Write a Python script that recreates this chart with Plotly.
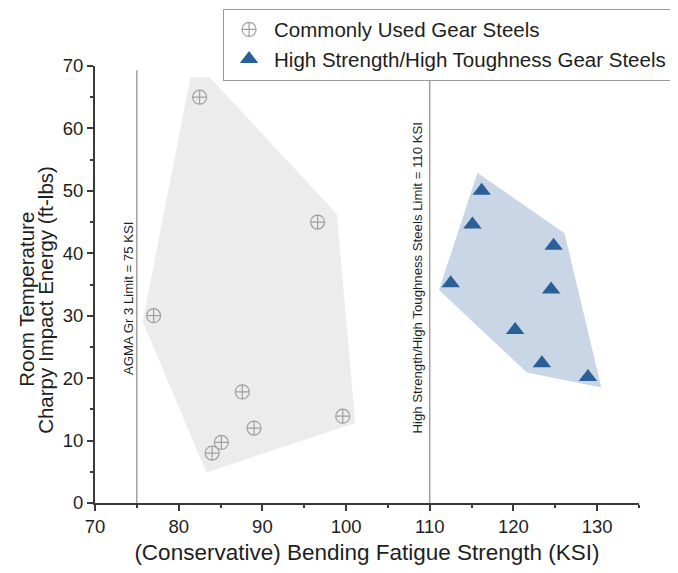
import plotly.graph_objects as go

# Data
common_x = [82.5, 96.6, 77.0, 87.6, 99.6, 89.0, 85.1, 84.0]
common_y = [65.0, 45.0, 30.0, 17.8, 13.9, 12.0, 9.7, 8.0]

high_x = [116.2, 115.1, 124.8, 112.5, 124.5, 120.2, 123.4, 128.9]
high_y = [50.0, 44.6, 41.2, 35.2, 34.2, 27.7, 22.4, 20.2]

common_hull_x = [81.4, 83.7, 98.9, 101.1, 83.3, 75.7]
common_hull_y = [68.2, 68.2, 46.3, 12.8, 4.9, 29.1]

high_hull_x = [115.7, 126.1, 130.5, 121.6, 111.1]
high_hull_y = [52.9, 43.2, 18.5, 20.9, 34.1]

limit_x = [75, 110]
limit_top = 69.3
limit_labels = ["AGMA Gr 3 Limit = 75 KSI",
                "High Strength/High Toughness Steels Limit = 110 KSI"]
limit_label_x = [74.0, 108.5]
limit_label_y = [32.9, 36.0]

x_ticks = [70, 80, 90, 100, 110, 120, 130]
y_ticks = [0, 10, 20, 30, 40, 50, 60, 70]
y_title_lines = ["Room Temperature", "Charpy Impact Energy (ft-lbs)"]

FONT = "Arial, Liberation Sans, sans-serif"
AX = "#3a3a3a"
TXT = "#1e1e1e"

fig = go.Figure()

fig.add_trace(go.Scatter(x=common_hull_x, y=common_hull_y, fill="toself",
                         fillcolor="#ececec", mode="none", showlegend=False,
                         hoverinfo="skip"))
fig.add_trace(go.Scatter(x=high_hull_x, y=high_hull_y, fill="toself",
                         fillcolor="#c9d6e6", mode="none", showlegend=False,
                         hoverinfo="skip"))

for lx in limit_x:
    fig.add_trace(go.Scatter(x=[lx, lx], y=[0, limit_top], mode="lines",
                             line=dict(color="#8a8a8a", width=1.2),
                             showlegend=False, hoverinfo="skip"))

fig.add_trace(go.Scatter(x=common_x, y=common_y, mode="markers",
                         name="Commonly Used Gear Steels",
                         marker=dict(symbol="circle-cross-open", size=14,
                                     color="#a0a0a0", line=dict(width=1.2))))
fig.add_trace(go.Scatter(x=high_x, y=high_y, mode="markers",
                         name="High Strength/High Toughness Gear Steels",
                         marker=dict(symbol="triangle-up", size=16,
                                     color="#2b5f98")))

for txt, tx, ty in zip(limit_labels, limit_label_x, limit_label_y):
    fig.add_annotation(x=tx, y=ty, text=txt, textangle=-90, showarrow=False,
                       font=dict(size=13.2, color=TXT, family=FONT))

for txt, px in zip(y_title_lines, [-0.125, -0.09]):
    fig.add_annotation(xref="paper", yref="paper", x=px, y=0.465, text=txt,
                       textangle=-90, showarrow=False, xanchor="center",
                       yanchor="middle",
                       font=dict(size=20.5, color=TXT, family=FONT))

fig.update_layout(
    width=670, height=565,
    margin=dict(l=87, r=39, t=58, b=70, autoexpand=False),
    paper_bgcolor="white", plot_bgcolor="white",
    font=dict(family=FONT, color=TXT),
    showlegend=True,
    legend=dict(xref="container", yref="container", x=0.321, y=0.999,
                xanchor="left", yanchor="top",
                bordercolor="#9a9a9a", borderwidth=1, bgcolor="white",
                font=dict(size=20.5, color=TXT, family=FONT),
                tracegroupgap=0, itemwidth=40),
)
fig.update_xaxes(range=[70, 135], tickvals=x_ticks, automargin=False,
                 showgrid=False, zeroline=False, showline=True,
                 linecolor=AX, linewidth=1.8, ticks="outside", ticklen=6,
                 tickwidth=1.5, tickcolor=AX,
                 minor=dict(dtick=5, ticks="outside", ticklen=3,
                            tickcolor=AX, showgrid=False),
                 tickfont=dict(size=18.5, color=TXT),
                 title=dict(text="(Conservative) Bending Fatigue Strength (KSI)",
                            font=dict(size=22.5, color=TXT), standoff=8))
fig.update_yaxes(range=[0, 70], tickvals=y_ticks, automargin=False,
                 showgrid=False, zeroline=False, showline=True,
                 linecolor=AX, linewidth=1.8, ticks="outside", ticklen=6,
                 tickwidth=1.5, tickcolor=AX,
                 minor=dict(dtick=5, ticks="outside", ticklen=3,
                            tickcolor=AX, showgrid=False),
                 tickfont=dict(size=18.5, color=TXT))

fig.write_html("out.html")
